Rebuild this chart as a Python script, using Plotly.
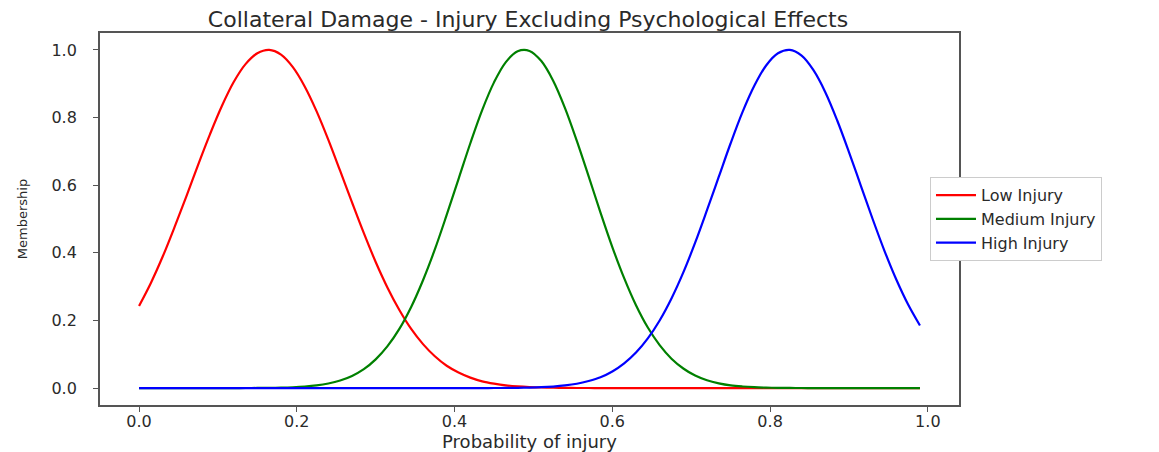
import plotly.graph_objects as go

x_vals = [0.000, 0.015, 0.030, 0.045, 0.060, 0.075, 0.090, 0.105, 0.120, 0.135,
          0.150, 0.165, 0.180, 0.195, 0.210, 0.225, 0.240, 0.255, 0.270, 0.285,
          0.300, 0.315, 0.330, 0.345, 0.360, 0.375, 0.390, 0.405, 0.420, 0.435,
          0.450, 0.465, 0.480, 0.495, 0.510, 0.525, 0.540, 0.555, 0.570, 0.585,
          0.600, 0.615, 0.630, 0.645, 0.660, 0.675, 0.690, 0.705, 0.720, 0.735,
          0.750, 0.765, 0.780, 0.795, 0.810, 0.825, 0.840, 0.855, 0.870, 0.885,
          0.900, 0.915, 0.930, 0.945, 0.960, 0.975, 0.990]

low_injury = [0.243, 0.311, 0.389, 0.476, 0.567, 0.661, 0.751, 0.834, 0.905, 0.958,
              0.990, 1.000, 0.986, 0.949, 0.892, 0.819, 0.734, 0.642, 0.549, 0.458,
              0.373, 0.297, 0.231, 0.175, 0.130, 0.094, 0.066, 0.046, 0.031, 0.020,
              0.013, 0.008, 0.005, 0.003, 0.0017, 0.001, 0.0006, 0.0003, 0.0002, 0.0001,
              0.0, 0.0, 0.0, 0.0, 0.0, 0.0, 0.0, 0.0, 0.0, 0.0,
              0.0, 0.0, 0.0, 0.0, 0.0, 0.0, 0.0, 0.0, 0.0, 0.0,
              0.0, 0.0, 0.0, 0.0, 0.0, 0.0, 0.0]

medium_injury = [0.0, 0.0, 0.0, 0.0, 0.0, 0.0, 0.0, 0.0, 0.0001, 0.0002,
                 0.0004, 0.0007, 0.0013, 0.0025, 0.0046, 0.008, 0.0137, 0.0226, 0.036, 0.056,
                 0.085, 0.124, 0.175, 0.240, 0.319, 0.410, 0.512, 0.618, 0.724, 0.822,
                 0.904, 0.964, 0.996, 0.997, 0.967, 0.909, 0.828, 0.731, 0.626, 0.519,
                 0.417, 0.325, 0.245, 0.179, 0.127, 0.087, 0.058, 0.037, 0.023, 0.014,
                 0.008, 0.0047, 0.0026, 0.0014, 0.0007, 0.0004, 0.0002, 0.0001, 0.0, 0.0,
                 0.0, 0.0, 0.0, 0.0, 0.0, 0.0, 0.0]

high_injury = [0.0, 0.0, 0.0, 0.0, 0.0, 0.0, 0.0, 0.0, 0.0, 0.0,
               0.0, 0.0, 0.0, 0.0, 0.0, 0.0, 0.0, 0.0, 0.0, 0.0,
               0.0, 0.0, 0.0, 0.0, 0.0, 0.0, 0.0, 0.0, 0.0, 0.0001,
               0.0002, 0.0004, 0.0008, 0.0015, 0.0026, 0.0046, 0.0078, 0.0129, 0.021, 0.032,
               0.049, 0.073, 0.105, 0.147, 0.200, 0.265, 0.342, 0.430, 0.526, 0.625,
               0.724, 0.816, 0.894, 0.954, 0.990, 1.000, 0.983, 0.940, 0.875, 0.792,
               0.698, 0.599, 0.500, 0.406, 0.321, 0.247, 0.185]

series_names = ["Low Injury", "Medium Injury", "High Injury"]
series_colors = ["#ff0000", "#008000", "#0000ff"]
tick_vals = [0.0, 0.2, 0.4, 0.6, 0.8, 1.0]

W, H = 1151, 444  # page adds an 8px body margin

fig = go.Figure()
for name, ys, col in zip(series_names, [low_injury, medium_injury, high_injury], series_colors):
    fig.add_trace(go.Scatter(x=x_vals, y=ys, mode="lines", name=name,
                             line=dict(color=col, width=2.2, shape="spline", smoothing=1.0)))

axis_common = dict(showline=True, mirror=True, linecolor="#555555", linewidth=1.8,
                   ticks="outside", ticklen=5, tickcolor="#555555", tickwidth=1.2,
                   showgrid=False, zeroline=False, tickformat=".1f", automargin=False,
                   tickfont=dict(family="DejaVu Sans", size=16, color="#2a2a2a"))

fig.update_layout(
    width=W, height=H,
    template="none",
    paper_bgcolor="white", plot_bgcolor="white",
    margin=dict(l=92, r=200, t=25, b=47, autoexpand=False),
    title=dict(text="Collateral Damage - Injury Excluding Psychological Effects",
               x=520 / W, xanchor="center", y=1 - 11 / H, yanchor="middle",
               automargin=False,
               font=dict(family="DejaVu Sans", size=22, color="#2a2a2a")),
    xaxis=dict(range=[-0.0495, 1.0395], tickvals=tick_vals, ticklabelstandoff=-4,
               title=dict(text="Probability of injury", standoff=0,
                          font=dict(family="DejaVu Sans", size=18, color="#2a2a2a")),
               **axis_common),
    yaxis=dict(range=[-0.05, 1.05], tickvals=tick_vals, ticklabelstandoff=13,
               title=dict(text="Membership", standoff=21,
                          font=dict(family="DejaVu Sans", size=13, color="#2a2a2a")),
               **axis_common),
    legend=dict(x=0.966, xanchor="left", y=0.5, yanchor="middle",
                bgcolor="white", bordercolor="#cccccc", borderwidth=1.2,
                font=dict(family="DejaVu Sans", size=16, color="#2a2a2a"),
                tracegroupgap=0, itemwidth=40),
    showlegend=True,
)

fig.write_html("out.html")
